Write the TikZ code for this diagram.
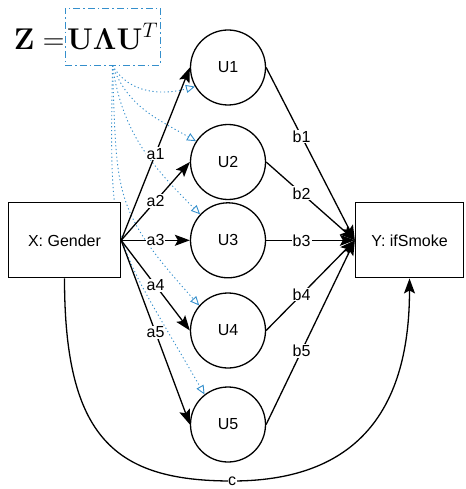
\documentclass[tikz,border=0pt]{standalone}
\usepackage{fix-cm}
\usepackage[no-math]{fontspec}
\setmainfont{Liberation Sans}
\usepackage{amsmath}
\usepackage{tikz}
\usetikzlibrary{arrows.meta,backgrounds}

\definecolor{zblue}{RGB}{52,143,204}

\begin{document}
\begin{tikzpicture}[x=1pt,y=1pt,font=\fontsize{16}{19}\selectfont]
	\useasboundingbox (0,0) rectangle (465,-489);

	\begin{scope}[every node/.style={inner sep=0pt,font=\fontsize{30}{34}\selectfont}]
	    \node[draw=zblue,line width=0.9pt,dash pattern=on 7pt off 3pt on 1.5pt off 3pt,
	          minimum width=95pt,minimum height=57pt] (form) at (112.5,-36.5) {$\mathbf{U\Lambda U}^T$};
	    \node[anchor=base east] (zeq) at (form.base west) {$\mathbf{Z}=$};
	\end{scope}

	\begin{scope}[every node/.style={draw,fill=white,line width=1.3pt,minimum width=112pt,minimum height=75pt}]
	    \node (X) at (64.5,-240.3) {X: Gender};
	    \node[minimum width=108pt] (Y) at (409.5,-240.3) {Y: ifSmoke};
	\end{scope}

	\begin{scope}[every node/.style={circle,draw,line width=1.3pt,minimum size=75pt,inner sep=0pt}]
	    \node (U1) at (228,-67.5) {U1};
	    \node (U2) at (228,-162) {U2};
	    \node (U3) at (228,-240.3) {U3};
	    \node (U4) at (228,-330.5) {U4};
	    \node (U5) at (228,-424.5) {U5};
	\end{scope}

	\begin{scope}[>={Stealth[length=15pt,width=11pt,inset=3pt]},
	              every node/.style={fill=white,inner sep=1pt},
	              every edge/.style={draw=black,line width=1.3pt,->}]
	    \path (X.east) edge node {a1} (U1.west);
	    \path (X.east) edge node {a2} (U2.west);
	    \path (X.east) edge node {a3} (U3.west);
	    \path (X.east) edge node {a4} (U4.west);
	    \path (X.east) edge node {a5} (U5.west);
	    \path (U1.east) edge node[pos=0.4] {b1} (Y.west);
	    \path (U2.east) edge node[pos=0.4] {b2} (Y.west);
	    \path (U3.east) edge node[pos=0.4] {b3} (Y.west);
	    \path (U4.east) edge node[pos=0.4] {b4} (Y.west);
	    \path (U5.east) edge node[pos=0.4] {b5} (Y.west);
	    \draw[line width=1.3pt,->] (X.south) .. controls (64.5,-438) and (115,-481) .. (232,-481)
	        node[inner sep=0.5pt] {c} .. controls (350,-481) and (409.5,-418) .. (Y.south);
	\end{scope}

	\begin{pgfonlayer}{background}
	\begin{scope}[every edge/.style={draw=zblue,line width=0.9pt,dash pattern=on 1.2pt off 2.6pt,
	                                 -{Triangle[open,length=9pt,width=8pt]}}]
	    \path (form.south) edge[out=-60,in=195] (U1.210);
	    \path (form.south) edge[out=-70,in=150] (U2.147);
	    \path (form.south) edge[out=-82,in=135] (U3.137);
	    \path (form.south) edge[out=-88,in=132,looseness=1.3] (U4.139);
	    \path (form.south) edge[out=-91,in=120,looseness=1.4] (U5.128);
	\end{scope}
	\end{pgfonlayer}
\end{tikzpicture}
\end{document}
